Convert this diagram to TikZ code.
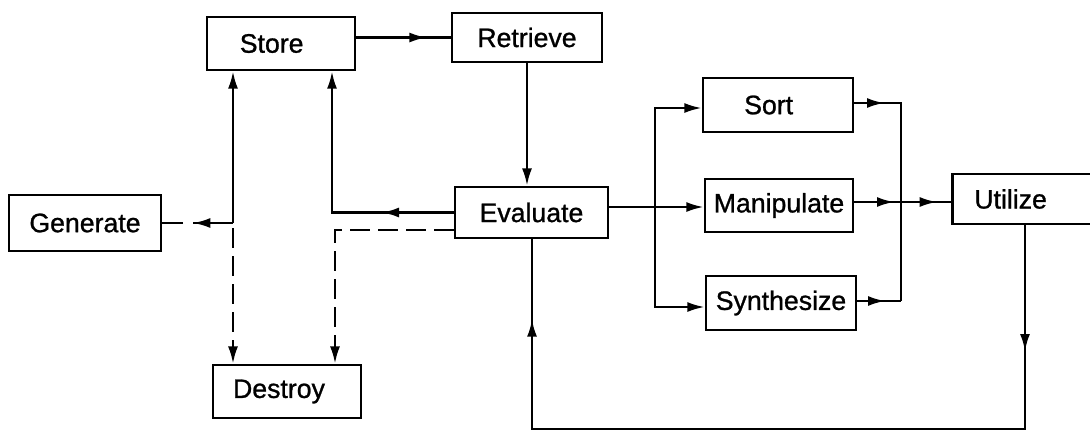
\documentclass[tikz,border=0pt]{standalone}
\usepackage{fontspec}
\setmainfont{Liberation Sans}
\newfontfamily\boxfont{Liberation Sans}[FakeBold=1]
\usetikzlibrary{arrows.meta,decorations.markings}
\begin{document}
\begin{tikzpicture}[x=0.75pt,y=-0.75pt,
  Ah/.tip={Latex[length=13pt,width=7.5pt]},
  box/.style={draw, line width=2pt, inner sep=0pt, align=center,
    font=\boxfont\fontsize{20}{24}\selectfont},
  link/.style={line width=1.8pt},
  brk/.style={dash pattern=on 15pt off 6pt},
  ahead/.style={postaction={decorate, decoration={markings,
    mark=at position #1 with {\arrow{Ah}}}}},
]
\useasboundingbox (0,0) rectangle (1090,437);
\fill[white] (0,0) rectangle (1090,437);
\clip (0,0) rectangle (1090,437);

% process boxes
\node[box, minimum width=111pt, minimum height=39.75pt] (Store) at (281,43.5) {Store\hspace{14pt}};
\node[box, minimum width=112.5pt, minimum height=36.75pt] (Retrieve) at (527,37.5) {Retrieve};
\node[box, minimum width=114pt, minimum height=42pt] (Generate) at (85,223) {Generate};
\node[box, minimum width=114.75pt, minimum height=38.25pt] (Evaluate) at (531.5,212.5) {Evaluate};
\node[box, minimum width=111pt, minimum height=39.75pt] (Destroy) at (287,391.5) {Destroy\hspace{12pt}};
\node[box, minimum width=112.5pt, minimum height=40.5pt] (Sort) at (778,105) {Sort\hspace{14pt}};
\node[box, minimum width=111pt, minimum height=39.75pt] (Manipulate) at (779,205.5) {Manipulate};
\node[box, minimum width=112.5pt, minimum height=40.5pt] (Synthesize) at (781,303) {Synthesize};
\node[box, anchor=west, align=left, text width=82.5pt, inner xsep=16.5pt,
  minimum height=37.5pt] (Utilize) at (951,199) {Utilize};

% routing points
\coordinate (jl) at (233,223);
\coordinate (jd) at (233,228);
\coordinate (ks) at (332,212.5);
\coordinate (kd) at (335,230);
\coordinate (bl) at (655,207);
\coordinate (bs) at (655,108);
\coordinate (by) at (655,307);
\coordinate (rs) at (901,103);
\coordinate (ry) at (901,301);
\coordinate (mu) at (901,202);
\coordinate (lr) at (1025,429);
\coordinate (ll) at (532,429);

% Generate junction
\draw[link, dash pattern=on 30pt off 7.5pt on 40pt, ahead=30pt] (jl) -- (Generate.east);
\draw[link, -Ah] (jl) -- (jl |- Store.south);
\draw[link, brk, -Ah] (jd) -- (jd |- Destroy.north);

% Store - Retrieve - Evaluate
\draw[link, ahead=-18pt] (Store.east |- Retrieve.west) -- (Retrieve.west);
\draw[link, -Ah] (Retrieve.south) -- (Retrieve.south |- Evaluate.north);

% Evaluate back to Store and on to Destroy
\draw[link, -Ah, ahead=54pt] (Evaluate.west) -- (ks) -- (ks |- Store.south);
\draw[link, brk, -Ah] (Evaluate.west |- kd) -- (kd) -- (kd |- Destroy.north);

% Evaluate fans out
\draw[link, -Ah] (Evaluate.east |- bl) -- (bl -| Manipulate.west);
\draw[link, -Ah] (bl) -- (bs) -- (bs -| Sort.west);
\draw[link, -Ah] (bl) -- (by) -- (by -| Synthesize.west);

% results collected into Utilize
\draw[link, ahead=22.5pt] (Sort.east |- rs) -- (rs) -- (ry);
\draw[link, ahead=21pt] (Synthesize.east |- ry) -- (ry);
\draw[link, ahead=30pt, ahead=-10.5pt] (Manipulate.east |- mu) -- (Utilize.west |- mu);

% feedback loop
\draw[link, ahead=94.5pt, ahead=-60pt] (lr |- Utilize.south) -- (lr) -- (ll) -- (ll |- Evaluate.south);
\end{tikzpicture}
\end{document}
